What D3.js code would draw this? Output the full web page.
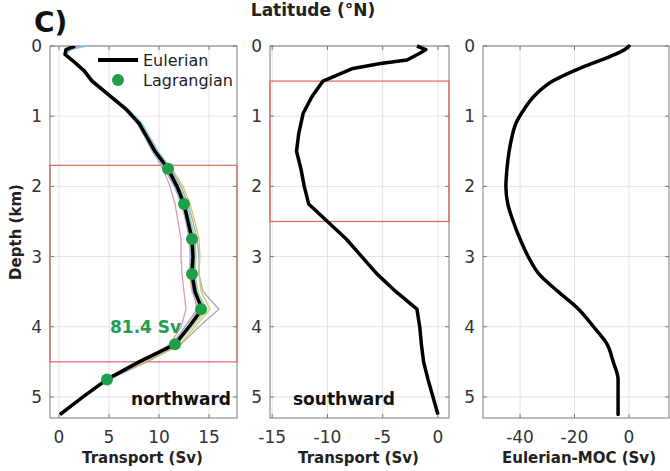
<!doctype html>
<html>
<head>
  <script src="https://d3js.org/d3.v7.min.js" charset="utf-8"></script>
  <style>
    body { margin: 0; background: #fff; }
    text { font-family: "DejaVu Sans", sans-serif; }
  </style>
</head>
<body>
  <div id="viz"></div>
  <script>
    // depth grid (km) for the northward panel
    var depthN = [0, 0.05, 0.12, 0.2, 0.35, 0.5, 0.7, 0.9, 1.1, 1.3, 1.5, 1.75, 2.0, 2.25, 2.5, 2.75, 3.0, 3.25, 3.5, 3.75, 4.0, 4.25, 4.5, 4.75, 5.0, 5.25];
    var eulerN = [1.6, 0.7, 0.6, 1.3, 2.5, 3.3, 5.0, 6.7, 8.0, 8.8, 9.6, 10.9, 11.8, 12.5, 12.9, 13.3, 13.4, 13.3, 13.6, 14.3, 13.0, 11.6, 8.0, 4.8, 2.4, 0.1];

    // thin ensemble members behind the Eulerian line
    var memberColors = ["#e590c4", "#a8a8a8", "#d6c56c", "#7fd6d6", "#f2b273", "#9fd69a", "#8fb6e6", "#c58ad0"];
    var members = [
      [2.4, 1.0, 0.7, 1.4, 2.6, 3.5, 5.1, 6.8, 8.1, 8.8, 9.4, 10.4, 11.1, 11.6, 11.9, 12.2, 12.2, 12.3, 12.5, 12.7, 12.2, 11.1, 8.3, 5.0, 2.4, 0.1],
      [1.8, 0.8, 0.6, 1.3, 2.5, 3.4, 5.1, 6.8, 8.1, 9.0, 9.8, 11.2, 12.2, 12.9, 13.4, 13.8, 14.0, 14.0, 14.4, 16.0, 14.0, 12.2, 8.8, 5.0, 2.5, 0.1],
      [1.7, 0.8, 0.7, 1.4, 2.6, 3.4, 5.1, 6.9, 8.2, 9.1, 9.9, 11.3, 12.4, 13.1, 13.6, 14.0, 14.1, 14.0, 14.2, 15.1, 13.6, 12.1, 8.5, 4.9, 2.4, 0.1],
      [2.8, 1.2, 0.8, 1.4, 2.6, 3.5, 5.2, 6.9, 8.3, 9.1, 9.9, 11.1, 12.0, 12.8, 13.2, 13.6, 13.7, 13.6, 13.9, 14.6, 13.1, 11.9, 8.1, 4.6, 2.3, 0.1],
      [1.5, 0.7, 0.6, 1.3, 2.5, 3.3, 5.0, 6.6, 7.9, 8.7, 9.5, 10.7, 11.6, 12.2, 12.7, 13.0, 13.1, 13.0, 13.3, 14.0, 12.6, 11.3, 8.4, 4.9, 2.4, 0.1],
      [1.9, 0.9, 0.7, 1.3, 2.4, 3.2, 4.9, 6.6, 7.9, 8.7, 9.6, 10.9, 11.9, 12.6, 13.1, 13.5, 13.6, 13.5, 13.8, 14.8, 13.3, 11.8, 7.9, 4.7, 2.3, 0.1],
      [2.2, 0.9, 0.6, 1.2, 2.3, 3.2, 4.9, 6.5, 7.8, 8.6, 9.3, 10.6, 11.5, 12.3, 12.7, 13.1, 13.2, 13.1, 13.4, 13.8, 12.6, 11.4, 7.8, 4.7, 2.3, 0.1],
      [2.0, 0.8, 0.6, 1.2, 2.4, 3.3, 5.0, 6.6, 7.9, 8.8, 9.5, 10.8, 11.7, 12.4, 12.9, 13.2, 13.3, 13.2, 13.5, 14.3, 12.9, 11.5, 8.2, 4.8, 2.4, 0.1]
    ];

    // Lagrangian estimates
    var lagDepth = [1.75, 2.25, 2.75, 3.25, 3.75, 4.25, 4.75];
    var lagValue = [10.9, 12.5, 13.3, 13.3, 14.2, 11.6, 4.8];

    // southward panel
    var depthS = [0, 0.05, 0.1, 0.2, 0.25, 0.32, 0.44, 0.5, 0.72, 0.96, 1.25, 1.5, 1.75, 2.0, 2.25, 2.5, 2.75, 3.0, 3.25, 3.5, 3.75, 4.0, 4.25, 4.5, 4.75, 5.0, 5.25];
    var eulerS = [-1.9, -1.1, -1.6, -2.8, -5.2, -7.7, -9.5, -10.4, -11.4, -12.2, -12.6, -12.8, -12.4, -12.1, -11.7, -10.0, -8.3, -6.9, -5.5, -3.8, -1.9, -1.65, -1.5, -1.3, -0.9, -0.45, 0];

    // Eulerian MOC panel
    var depthM = [0, 0.05, 0.15, 0.3, 0.5, 0.7, 0.9, 1.1, 1.3, 1.5, 1.75, 2.0, 2.25, 2.5, 2.75, 3.0, 3.25, 3.5, 3.75, 4.0, 4.25, 4.5, 4.75, 5.0, 5.25];
    var moc = [0, -1.5, -7, -17, -28, -34.5, -38.5, -41.5, -43, -44, -44.8, -45.2, -44.5, -42.5, -40, -37, -33, -26, -18.5, -13, -8, -5.8, -4, -4, -4];

    var depthTicks = [0, 1, 2, 3, 4, 5];
    var ticksN = [0, 5, 10, 15];
    var ticksS = [-15, -10, -5, 0];
    var ticksM = [-40, -20, 0];
    var boxN = [1.7, 4.5];
    var boxS = [0.5, 2.5];

    var svg = d3.select("#viz").append("svg")
        .attr("width", 670)
        .attr("height", 471);

    var y = d3.scaleLinear().domain([0, 5.3]).range([46, 418]);

    var panels = [
      {x: d3.scaleLinear().domain([-0.9, 17.8]).range([50, 237]), ticks: ticksN, label: "Transport (Sv)"},
      {x: d3.scaleLinear().domain([-15.2, 1]).range([270, 449]), ticks: ticksS, label: "Transport (Sv)"},
      {x: d3.scaleLinear().domain([-53.6, 14.7]).range([483, 669]), ticks: ticksM, label: "Eulerian-MOC (Sv)"}
    ];

    panels.forEach(function(p, i) {
      var g = svg.append("g");
      var x0 = p.x.range()[0], x1 = p.x.range()[1];
      var y0 = y.range()[0], y1 = y.range()[1];

      g.append("clipPath").attr("id", "clip" + i)
        .append("rect").attr("x", x0).attr("y", y0).attr("width", x1 - x0).attr("height", y1 - y0);

      // grid
      g.selectAll(".vg").data(p.ticks).enter().append("line")
        .attr("x1", function(d) { return p.x(d); }).attr("x2", function(d) { return p.x(d); })
        .attr("y1", y0).attr("y2", y1)
        .style("stroke", "#e3e3e3").style("stroke-width", 1);
      g.selectAll(".hg").data(depthTicks).enter().append("line")
        .attr("x1", x0).attr("x2", x1)
        .attr("y1", function(d) { return y(d); }).attr("y2", function(d) { return y(d); })
        .style("stroke", "#e3e3e3").style("stroke-width", 1);

      // box
      g.append("rect").attr("x", x0).attr("y", y0).attr("width", x1 - x0).attr("height", y1 - y0)
        .style("fill", "none").style("stroke", "#7a7a7a").style("stroke-width", 1);

      // inward ticks
      p.ticks.forEach(function(t) {
        g.append("line").attr("x1", p.x(t)).attr("x2", p.x(t)).attr("y1", y1).attr("y2", y1 - 4).style("stroke", "#7a7a7a");
        g.append("line").attr("x1", p.x(t)).attr("x2", p.x(t)).attr("y1", y0).attr("y2", y0 + 4).style("stroke", "#7a7a7a");
      });
      depthTicks.forEach(function(t) {
        g.append("line").attr("x1", x0).attr("x2", x0 + 4).attr("y1", y(t)).attr("y2", y(t)).style("stroke", "#7a7a7a");
        g.append("line").attr("x1", x1).attr("x2", x1 - 4).attr("y1", y(t)).attr("y2", y(t)).style("stroke", "#7a7a7a");
      });

      // tick labels
      g.selectAll(".xl").data(p.ticks).enter().append("text")
        .attr("x", function(d) { return p.x(d); })
        .attr("y", 443)
        .attr("text-anchor", "middle")
        .style("font-size", "17px").style("fill", "#333")
        .text(function(d) { return d; });
      g.selectAll(".yl").data(depthTicks).enter().append("text")
        .attr("x", x0 - 8)
        .attr("y", function(d) { return y(d) + 6; })
        .attr("text-anchor", "end")
        .style("font-size", "17px").style("fill", "#333")
        .text(function(d) { return d; });

      // axis label
      g.append("text")
        .attr("x", (x0 + x1) / 2 + (i == 2 ? 3 : -1))
        .attr("y", 463)
        .attr("text-anchor", "middle")
        .style("font-size", "15px").style("font-weight", "bold").style("fill", "#222")
        .text(p.label);
    });

    var pN = panels[0], pS = panels[1], pM = panels[2];

    // red boxes
    [[pN, boxN], [pS, boxS]].forEach(function(b) {
      var r = b[0].x.range();
      svg.append("rect")
        .attr("x", r[0]).attr("y", y(b[1][0]))
        .attr("width", r[1] - r[0]).attr("height", y(b[1][1]) - y(b[1][0]))
        .style("fill", "none").style("stroke", "#e06464").style("stroke-width", 1.2);
    });

    // northward panel lines
    var lineN = d3.line()
      .x(function(d) { return pN.x(d[1]); })
      .y(function(d) { return y(d[0]); });

    var gN = svg.append("g").attr("clip-path", "url(#clip0)");
    members.forEach(function(m, k) {
      gN.append("path")
        .attr("d", lineN(d3.zip(depthN, m)))
        .style("fill", "none").style("stroke", memberColors[k]).style("stroke-width", 1.3);
    });
    gN.append("path")
      .attr("d", lineN(d3.zip(depthN, eulerN)))
      .style("fill", "none").style("stroke", "#000").style("stroke-width", 3.5)
      .style("stroke-linejoin", "round");

    svg.selectAll(".lag").data(d3.zip(lagDepth, lagValue)).enter().append("circle")
      .attr("cx", function(d) { return pN.x(d[1]); })
      .attr("cy", function(d) { return y(d[0]); })
      .attr("r", 6)
      .style("fill", "#1f9e4c");

    // southward
    var lineS = d3.line()
      .x(function(d) { return pS.x(d[1]); })
      .y(function(d) { return y(d[0]); });
    svg.append("path")
      .attr("d", lineS(d3.zip(depthS, eulerS)))
      .style("fill", "none").style("stroke", "#000").style("stroke-width", 3.5)
      .style("stroke-linejoin", "round");

    // MOC
    var lineM = d3.line()
      .x(function(d) { return pM.x(d[1]); })
      .y(function(d) { return y(d[0]); })
      .curve(d3.curveMonotoneY);
    svg.append("path")
      .attr("d", lineM(d3.zip(depthM, moc)))
      .style("fill", "none").style("stroke", "#000").style("stroke-width", 3.5)
      .style("stroke-linecap", "round");

    // legend
    svg.append("line").attr("x1", 98).attr("x2", 138).attr("y1", 60).attr("y2", 60)
      .style("stroke", "#000").style("stroke-width", 4);
    svg.append("circle").attr("cx", 118).attr("cy", 80).attr("r", 6).style("fill", "#1f9e4c");
    svg.append("text").attr("x", 143).attr("y", 66).style("font-size", "16px").style("fill", "#222").text("Eulerian");
    svg.append("text").attr("x", 143).attr("y", 86).style("font-size", "16px").style("fill", "#222").text("Lagrangian");

    // annotations
    svg.append("text").attr("x", 110).attr("y", 333)
      .style("font-size", "17px").style("font-weight", "bold").style("fill", "#1f9e4c").text("81.4 Sv");
    svg.append("text").attr("x", 231).attr("y", 405).attr("text-anchor", "end")
      .style("font-size", "17px").style("font-weight", "bold").style("fill", "#111").text("northward");
    svg.append("text").attr("x", 293).attr("y", 405)
      .style("font-size", "17px").style("font-weight", "bold").style("fill", "#111").text("southward");

    // y label
    svg.append("text")
      .attr("transform", "translate(21,232) rotate(-90)")
      .attr("text-anchor", "middle")
      .style("font-size", "15px").style("font-weight", "bold").style("fill", "#222")
      .text("Depth (km)");

    // panel letter and top label
    svg.append("text").attr("x", 34).attr("y", 32)
      .style("font-size", "28px").style("font-weight", "bold").style("fill", "#111").text("C)");
    svg.append("text").attr("x", 313).attr("y", 16).attr("text-anchor", "middle")
      .style("font-size", "17px").style("font-weight", "bold").style("fill", "#222").text("Latitude (°N)");
  </script>
</body>
</html>
